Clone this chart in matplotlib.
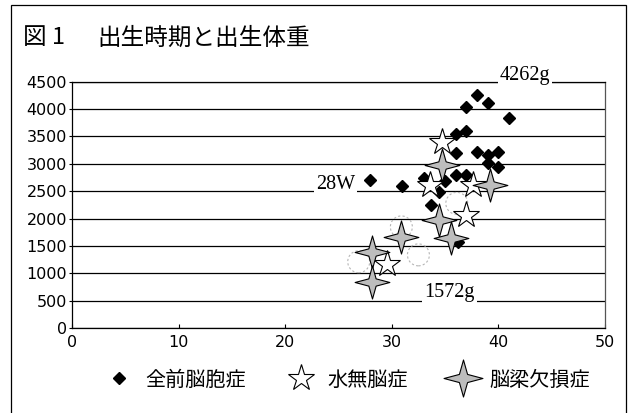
import matplotlib
matplotlib.use("Agg")
import matplotlib.pyplot as plt
from matplotlib.path import Path
from matplotlib.patches import Rectangle
from matplotlib.lines import Line2D

# 在胎週数 (W) と出生体重 (g)
hpe_weeks = [38, 37, 39, 41, 37, 36, 36, 38, 39, 40, 40, 39, 36, 37, 35, 33, 31, 28, 34.4, 33.7, 36.2]
hpe_weight = [4262, 4040, 4120, 3830, 3600, 3540, 3190, 3220, 3160, 3220, 2940, 3010,
              2800, 2800, 2680, 2750, 2600, 2700, 2490, 2250, 1572]

hydran_weeks = [34.7, 33.6, 37.6, 37.0, 29.6]
hydran_weight = [3400, 2620, 2620, 2070, 1170]

acc_weeks = [34.7, 39.2, 34.4, 35.6, 30.9, 28.1, 28.1]
acc_weight = [2980, 2620, 1980, 1640, 1670, 1400, 850]

other_weeks = [26.9, 32.5, 30.9, 36.1]
other_weight = [1215, 1340, 1850, 2280]

legend_labels = ["全前脳胞症", "水無脳症", "脳梁欠損症"]
x_ticks = [0, 10, 20, 30, 40, 50]
y_ticks = list(range(0, 4501, 500))

jp_font = ["Noto Sans CJK JP", "DejaVu Sans"]

# 四芒星マーカー
four_star = Path([(0, 1), (0.22, 0.22), (1.05, 0), (0.22, -0.22), (0, -1),
                  (-0.22, -0.22), (-1.05, 0), (-0.22, 0.22), (0, 1)],
                 [Path.MOVETO] + [Path.LINETO] * 7 + [Path.CLOSEPOLY])

fig = plt.figure(figsize=(6.33, 4.13), dpi=100)
ax = fig.add_axes([0.1137, 0.2051, 0.8420, 0.5971])

ax.set_xlim(0, 50)
ax.set_ylim(0, 4500)
ax.set_xticks(x_ticks)
ax.set_yticks(y_ticks)
ax.yaxis.grid(True, color="black", linewidth=0.9)
ax.set_axisbelow(True)
for side in ax.spines:
    ax.spines[side].set_linewidth(0.9)
ax.spines["right"].set_color("#555555")
ax.tick_params(axis="x", direction="in", length=3, pad=5, labelsize=11.5)
ax.tick_params(axis="y", direction="out", length=2.5, pad=1, labelsize=11.5)

ax.scatter(other_weeks, other_weight, s=250, facecolors="none", edgecolors="#b5b5b5",
           linewidths=0.8, linestyle=(0, (2, 2)), zorder=2)
ax.plot(hpe_weeks, hpe_weight, linestyle="none", marker="D", markersize=6.2,
        color="black", zorder=3)
ax.plot(hydran_weeks, hydran_weight, linestyle="none", marker="*", markersize=20,
        markerfacecolor="white", markeredgecolor="black", markeredgewidth=0.8, zorder=4)
ax.plot(acc_weeks, acc_weight, linestyle="none", marker=four_star, markersize=25,
        markerfacecolor="#bdbdbd", markeredgecolor="black", markeredgewidth=0.8, zorder=5)

# 最大・最小値の注記
box = dict(facecolor="white", edgecolor="none", pad=1.5)
note_font = dict(family="Liberation Serif", fontsize=14.5, ha="center", va="baseline",
                 bbox=box, zorder=6)
ax.text(42.5, 4530, f"{max(hpe_weight)}g", **note_font)
ax.text(24.7, 2550, f"{min(hpe_weeks)}W", **note_font)
ax.text(35.4, 570, f"{min(hpe_weight)}g", **note_font)

handles = [
    Line2D([], [], linestyle="none", marker="D", markersize=6.2, color="black"),
    Line2D([], [], linestyle="none", marker="*", markersize=20, markerfacecolor="white",
           markeredgecolor="black", markeredgewidth=0.8),
    Line2D([], [], linestyle="none", marker=four_star, markersize=28, markerfacecolor="#bdbdbd",
           markeredgecolor="black", markeredgewidth=0.8),
]
fig.legend(handles, legend_labels, loc="center", bbox_to_anchor=(0.548, 1 - 380 / 413),
           ncol=3, frameon=False, prop={"family": jp_font, "size": 14.5},
           handlelength=1.5, handletextpad=0.55, columnspacing=2.0)

fig.text(23 / 633, 1 - 38 / 413, "図 1", family=jp_font, fontsize=17,
         ha="left", va="center")
fig.text(97 / 633, 1 - 38 / 413, "出生時期と出生体重", family=jp_font, fontsize=17,
         ha="left", va="center")

# 外枠
fig.patches.append(Rectangle((11 / 633, -0.05), 615 / 633, 1.05 - 5 / 413,
                             transform=fig.transFigure, fill=False,
                             edgecolor="black", linewidth=0.9))

fig.savefig("out.png", dpi=100)
